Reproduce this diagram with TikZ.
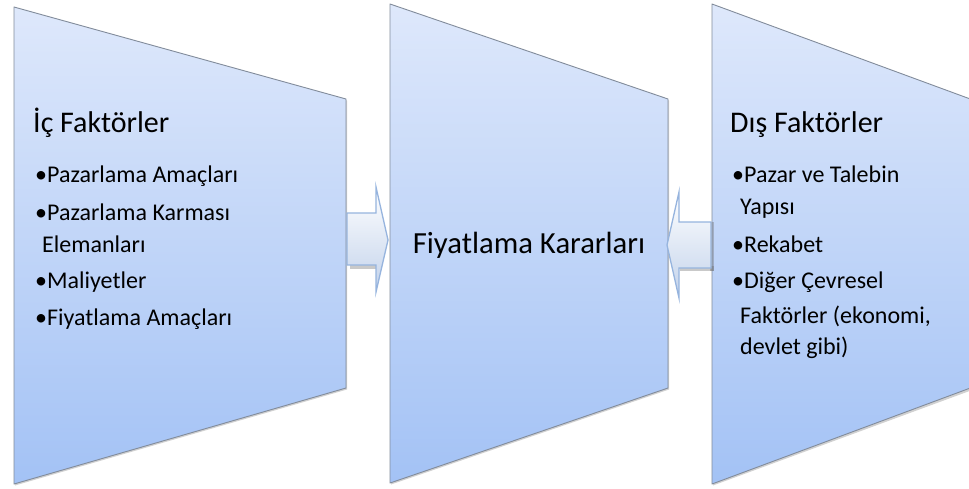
\documentclass[tikz,border=0pt]{standalone}
\usepackage{fontspec}
\setmainfont{Carlito}
\definecolor{paneltop}{RGB}{222,232,251}
\definecolor{panelbot}{RGB}{163,194,245}
\definecolor{paneledge}{RGB}{130,140,155}
\definecolor{arrowedge}{RGB}{150,180,222}
\definecolor{arrowbot}{RGB}{194,210,235}
\tikzset{
  panel/.style={draw=paneledge, line width=0.9pt, top color=paneltop, bottom color=panelbot, line join=round},
  panelshadow/.style={fill=black, opacity=0.18},
  blockarrow/.style={draw=arrowedge, line width=1.3pt, top color=white, bottom color=arrowbot, line join=miter},
  arrowshadow/.style={fill=black!60, opacity=0.35},
  title/.style={anchor=base west, inner sep=0pt, font=\fontsize{30}{36}\selectfont},
  item/.style={anchor=base west, inner sep=0pt, font=\fontsize{24}{30}\selectfont},
  centre/.style={anchor=base, inner sep=0pt, font=\fontsize{30.7}{36}\selectfont},
}
\begin{document}
\begin{tikzpicture}[x=1pt, y=-1pt]
  \clip (0,0) rectangle (969,488);
  \fill[white] (0,0) rectangle (969,488);

  % drop shadows of the three panels
  \fill[panelshadow] (15,8.5) -- (347,100.5) -- (347,389.5) -- (15,485.5) -- cycle;
  \fill[panelshadow] (391,5.5) -- (669,100.5) -- (669,389.5) -- (391,484.5) -- cycle;
  \fill[panelshadow] (713,5.5) -- (975,101) -- (975,389) -- (713,485.5) -- cycle;

  % the three panels
  \path[panel] (14,7) coordinate (icTL) -- (346,99) -- (346,388) -- (14,484) -- cycle;
  \path[panel] (390,4) coordinate (midTL) -- (668,99) -- (668,388) -- (390,483) -- cycle;
  \path[panel] (712,4) coordinate (disTL) -- (973,100) -- (973,387) -- (712,484) -- cycle;

  % block arrows pointing into the middle panel
  \fill[arrowshadow] (350,263) rectangle (377,268.5);
  \path[blockarrow] (347,213) -- (376,213) -- (376,187) -- (388,240)
        -- (376,292) -- (376,265) -- (347,265) -- cycle;
  \fill[arrowshadow] (680,266) rectangle (714,271);
  \fill[arrowshadow] (710,222) rectangle (714,271);
  \path[blockarrow] (711,222) -- (679,222) -- (679,192) -- (667,245)
        -- (679,298) -- (679,268) -- (711,268) -- cycle;

  % internal factors
  \node[title] (icTitle) at (33,132) {İç Faktörler};
  \node[item] (ic1) at (35,182) {\textbullet Pazarlama Amaçları};
  \node[item] (ic2) at (35,220) {\textbullet Pazarlama Karması};
  \node[item] (ic2b) at (42,252) {Elemanları};
  \node[item] (ic3) at (35,288) {\textbullet Maliyetler};
  \node[item] (ic4) at (35,325) {\textbullet Fiyatlama Amaçları};

  % pricing decisions
  \node[centre] (karar) at (529,253) {Fiyatlama Kararları};

  % external factors
  \node[title] (disTitle) at (730,132) {Dış Faktörler};
  \node[item] (dis1) at (732,182) {\textbullet Pazar ve Talebin};
  \node[item] (dis1b) at (740,214) {Yapısı};
  \node[item] (dis2) at (732,252) {\textbullet Rekabet};
  \node[item] (dis3) at (732,288) {\textbullet Diğer Çevresel};
  \node[item] (dis3b) at (740,323) {Faktörler (ekonomi,};
  \node[item] (dis3c) at (740,354) {devlet gibi)};
\end{tikzpicture}
\end{document}
